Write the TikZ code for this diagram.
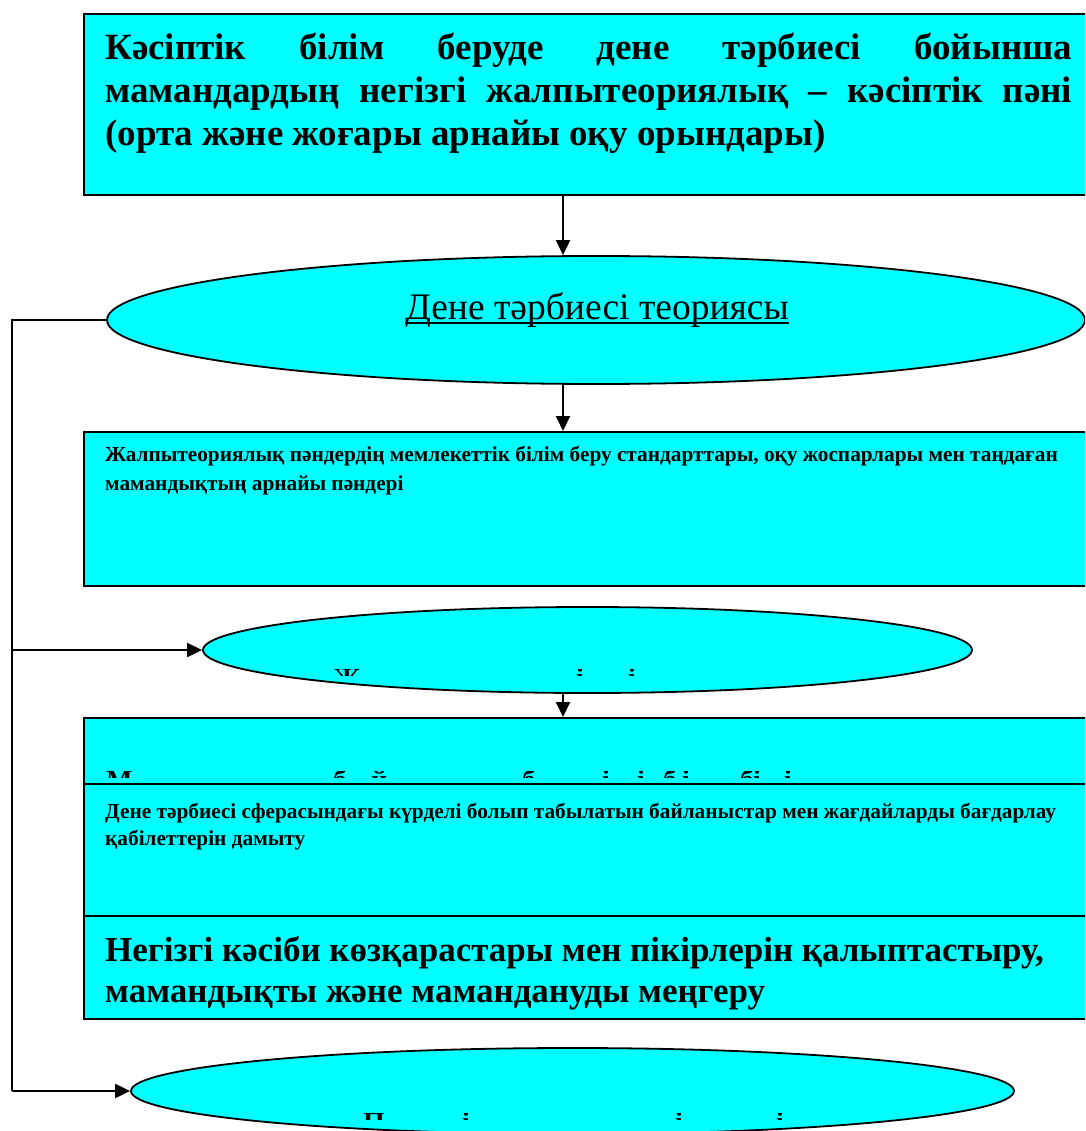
\documentclass[tikz,border=0pt]{standalone}
\usepackage{fontspec}
\setmainfont{Liberation Serif}
\usetikzlibrary{arrows.meta,shapes.geometric}
\definecolor{cyanfill}{RGB}{0,255,255}
\begin{document}
\begin{tikzpicture}[x=1pt,y=-1pt,
  boxst/.style={draw=black,line width=2pt,fill=cyanfill,rectangle,inner sep=0pt,anchor=north west},
  ellst/.style={draw=black,line width=1.8pt,fill=cyanfill,ellipse,inner sep=0pt},
  arr/.style={line width=2pt,-{Triangle[length=15pt,width=14pt]}},
  conn/.style={line width=1.5pt},
  big/.style={inner sep=0pt,anchor=base west,font=\bfseries\fontsize{37}{43}\selectfont},
  bigb/.style={inner sep=0pt,anchor=base west,font=\bfseries\fontsize{35}{42}\selectfont},
  small/.style={inner sep=0pt,anchor=base west,font=\bfseries\fontsize{21.3}{26}\selectfont},
  frag/.style={inner sep=0pt,anchor=base west,font=\bfseries\fontsize{28}{28}\selectfont},
]
\clip (0,0) rectangle (1085,1131);
\coordinate (ax) at (563,0);
\coordinate (lx) at (12,0);

% box 1
\node[boxst,minimum width=1010pt,minimum height=181pt] (b1) at (83,13) {};
\node[big] (t1a) at (105,60) {\makebox[967pt][s]{Кәсіптік білім беруде дене тәрбиесі бойынша}};
\node[big] (t1b) at (105,103) {\makebox[967pt][s]{мамандардың негізгі жалпытеориялық – кәсіптік пәні}};
\node[big] (t1c) at (105,146) {(орта және жоғары арнайы оқу орындары)};

% ellipse 1
\node[ellst,minimum width=978pt,minimum height=128pt] (e1) at (596,320) {};
\node[inner sep=0pt,anchor=base,font=\fontsize{37.5}{40}\selectfont] (te1) at (597,319) {Дене тәрбиесі теориясы};
\draw[line width=1.5pt] ([yshift=-4pt]te1.base west) -- ([yshift=-4pt]te1.base east);

% box 2
\node[boxst,minimum width=1010pt,minimum height=154pt] (b2) at (83,431) {};
\node[small] (t2a) at (105,461) {Жалпытеориялық пәндердің мемлекеттік білім беру стандарттары, оқу жоспарлары мен таңдаған};
\node[small] (t2b) at (105,490) {мамандықтың арнайы пәндері};

% ellipse 2
\node[ellst,minimum width=769pt,minimum height=86pt] (e2) at (587.5,650) {};
\begin{scope}
\clip (200,669) rectangle (980,675);
\node[frag] (f1) at (333,687.5) {Ж};
\node[frag] (f2) at (576,687.5) {і};
\node[frag] (f3) at (628,687.5) {і};
\end{scope}

% box 4
\node[boxst,minimum width=1010pt,minimum height=66pt] (b4) at (83,717) {};
\begin{scope}
\clip (90,771) rectangle (1080,777);
\foreach \xx/\ch [count=\k] in {106/М,333/б,371/й,522/б,602/і,637/і,663/б,682/і,740/б,753/і,784/і}{
  \node[frag] (g\k) at (\xx,789.5) {\ch};
}
\end{scope}

% box 5
\node[boxst,minimum width=1010pt,minimum height=132pt] (b5) at (83,783) {};
\node[small] (t5a) at (105,818) {Дене тәрбиесі сферасындағы күрделі болып табылатын байланыстар мен жағдайларды бағдарлау};
\node[small] (t5b) at (105,845) {қабілеттерін дамыту};

% box 6
\node[boxst,minimum width=1010pt,minimum height=103pt] (b6) at (83,915) {};
\node[bigb] (t6a) at (105,961) {Негізгі кәсіби көзқарастары мен пікірлерін қалыптастыру,};
\node[bigb] (t6b) at (105,1002) {мамандықты және мамандануды меңгеру};

% ellipse 3
\node[ellst,minimum width=883pt,minimum height=86pt] (e3) at (572.5,1091) {};
\begin{scope}
\clip (130,1113) rectangle (1010,1119);
\foreach \xx/\ch [count=\k] in {363/П,462/і,675/і,776/і}{
  \node[frag] (h\k) at (\xx,1131.5) {\ch};
}
\end{scope}

% connectors
\draw[arr] (b1.south -| ax) -- (e1.north -| ax);
\draw[arr] (e1.south -| ax) -- (b2.north -| ax);
\draw[arr] (e2.south -| ax) -- (b4.north -| ax);
\draw[conn] (e1.west) -- (e1.west -| lx) -- (e3.west -| lx);
\draw[arr] (e2.west -| lx) -- (e2.west);
\draw[arr] (e3.west -| lx) -- (e3.west);
\end{tikzpicture}
\end{document}
